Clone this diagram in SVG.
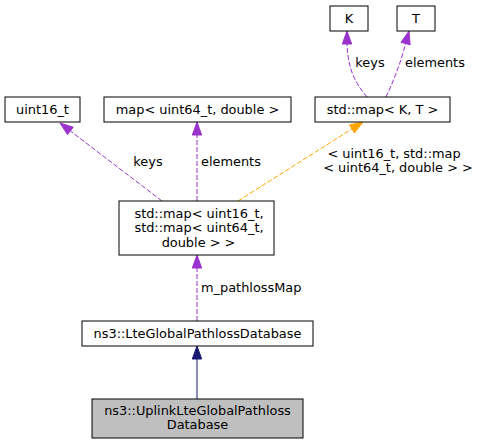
<svg xmlns="http://www.w3.org/2000/svg" width="479" height="445" viewBox="0 0 479 445">
<style>
.n{fill:#ffffff;stroke:#000000;stroke-width:1}
.g{fill:#bfbfbf;stroke:#000000;stroke-width:1}
text{font-family:"DejaVu Sans","Liberation Sans",sans-serif;font-size:12.9px;fill:#000000}
.m{text-anchor:middle}
.p{fill:none;stroke:#9a32cd;stroke-dasharray:5,2}
.pa{fill:#9a32cd;stroke:#9a32cd}
.o{fill:none;stroke:#ffa500;stroke-dasharray:5,2}
.oa{fill:#ffa500;stroke:#ffa500}
.b{fill:none;stroke:#191970}
.ba{fill:#191970;stroke:#191970}
</style>
<rect width="479" height="445" fill="#ffffff"/>
<g id="connectors">
<path class="b" d="M197,399 L197,359"/>
<polygon class="ba" points="197,346 192.3,359 201.7,359"/>
<path class="p" d="M197,321 L197,268"/>
<polygon class="pa" points="197,255 192.3,268 201.7,268"/>
<path class="p" d="M162,201 L70.3,130.9"/>
<polygon class="pa" points="60,123 73.2,127.2 67.5,134.6"/>
<path class="p" d="M197,201 L197,135"/>
<polygon class="pa" points="197,122 192.3,135 201.7,135"/>
<path class="o" d="M238,201 L352,128.9"/>
<polygon class="oa" points="363,122 354.5,132.9 349.5,124.9"/>
<path class="p" d="M367,97 C357,85 348,72 347,44"/>
<polygon class="pa" points="347,31 342.3,44 351.7,44"/>
<path class="p" d="M386,97 C394,80 401,62 405.6,43.5"/>
<polygon class="pa" points="409,31 410.1,44.8 401,42.3"/>
<text x="370" y="67" class="m">keys</text>
<text x="405" y="67">elements</text>
<text x="148" y="166" class="m">keys</text>
<text x="201" y="166">elements</text>
<text x="394" y="157.5" class="m">&lt; uint16_t, std::map</text>
<text x="398" y="171.5" class="m">&lt; uint64_t, double &gt; &gt;</text>
<text x="201" y="292">m_pathlossMap</text>
</g>
<g id="node-K">
<rect class="n" x="330" y="6" width="38" height="25"/>
<text x="349" y="23" class="m">K</text>
</g>
<g id="node-T">
<rect class="n" x="397" y="6" width="38" height="25"/>
<text x="416" y="23" class="m">T</text>
</g>
<g id="node-uint16">
<rect class="n" x="5" y="97" width="75" height="25"/>
<text x="42.5" y="114" class="m">uint16_t</text>
</g>
<g id="node-map64">
<rect class="n" x="104" y="97" width="187" height="25"/>
<text x="197.5" y="114" class="m">map&lt; uint64_t, double &gt;</text>
</g>
<g id="node-stdmapKT">
<rect class="n" x="315" y="97" width="135" height="25"/>
<text x="382.5" y="114" class="m">std::map&lt; K, T &gt;</text>
</g>
<g id="node-stdmap16">
<rect class="n" x="119" y="201" width="155" height="54"/>
<text x="199" y="217.5" class="m">std::map&lt; uint16_t,</text>
<text x="199" y="231.5" class="m">std::map&lt; uint64_t,</text>
<text x="198.5" y="246.5" class="m">double &gt; &gt;</text>
</g>
<g id="node-lte">
<rect class="n" x="82" y="321" width="231" height="25"/>
<text x="197.5" y="338" class="m">ns3::LteGlobalPathlossDatabase</text>
</g>
<g id="node-uplink">
<rect class="g" x="92" y="399" width="211" height="39"/>
<text x="197.5" y="414.5" class="m">ns3::UplinkLteGlobalPathloss</text>
<text x="197.5" y="428.5" class="m">Database</text>
</g>
</svg>
